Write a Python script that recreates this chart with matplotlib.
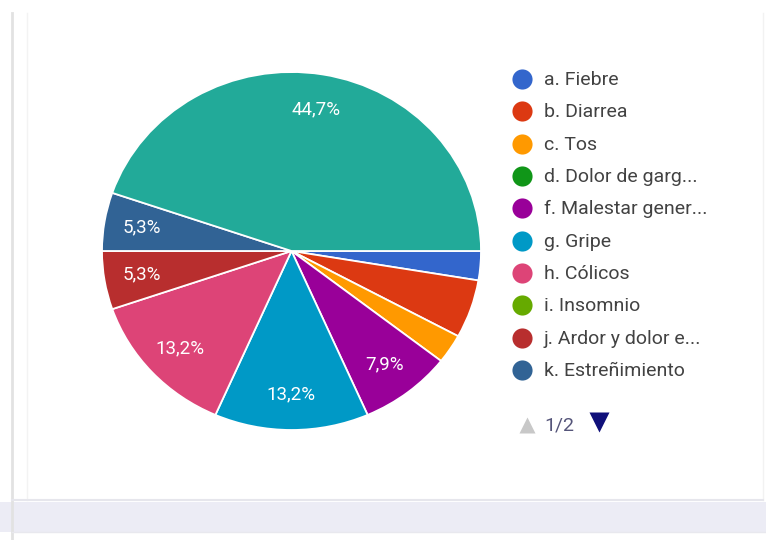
import matplotlib
matplotlib.use('Agg')
import matplotlib.pyplot as plt
from matplotlib.patches import Rectangle
import numpy as np

plt.rcParams['font.family'] = ['Roboto', 'DejaVu Sans']

# Responses per option (38 answers in total)
categories = ["a. Fiebre", "b. Diarrea", "c. Tos", "d. Dolor de garganta",
              "f. Malestar general", "g. Gripe", "h. Cólicos", "i. Insomnio",
              "j. Ardor y dolor estomacal", "k. Estreñimiento", "l. Otro", "m. Ninguno"]
counts = [1, 2, 1, 0, 3, 5, 5, 0, 2, 2, 0, 17]
colors = ["#3366cc", "#dc3912", "#ff9900", "#109618", "#990099", "#0099c6",
          "#dd4477", "#66aa00", "#b82e2e", "#316395", "#994499", "#22aa99"]

# legend shows the first page only, names cut like in the web form
legend_labels = ["a. Fiebre", "b. Diarrea", "c. Tos", "d. Dolor de garg...",
                 "f. Malestar gener...", "g. Gripe", "h. Cólicos", "i. Insomnio",
                 "j. Ardor y dolor e...", "k. Estreñimiento"]
page_text = "1/2"

# slices whose percentage does not fit next to the legend side
no_pct = {"b. Diarrea"}

W, H = 766, 540
fig = plt.figure(figsize=(W / 100, H / 100), dpi=100)
fig.patch.set_facecolor("white")


def px_rect(x0, y0, x1, y1):
    return [x0 / W, 1 - y1 / H, (x1 - x0) / W, (y1 - y0) / H]


# card frame and the gray strip under it
bg = fig.add_axes([0, 0, 1, 1])
bg.set_xlim(0, W)
bg.set_ylim(H, 0)
bg.axis("off")
bg.add_patch(Rectangle((0, 502), W, 30, color="#ececf5", lw=0))
bg.plot([12, 12], [13, H], color="#e2e2e2", lw=2)
bg.plot([27, 27], [13, 500], color="#f3f3f3", lw=1)
bg.plot([763, 763], [13, 500], color="#f2f2f2", lw=1)
bg.plot([12, 763], [500, 500], color="#e6e6ec", lw=1.5)
bg.plot([12, W], [532, 532], color="#e8e8ee", lw=1)

# pie, only slices with answers
shown = [(cat, c, col) for cat, c, col in zip(categories, counts, colors) if c > 0]
vals = [c for _, c, _ in shown]
cols = [col for _, _, col in shown]
total = sum(counts)

ax = fig.add_axes(px_rect(102, 72, 481, 430))
wedges, _ = ax.pie(vals, colors=cols, startangle=0, counterclock=False,
                   wedgeprops=dict(edgecolor="white", linewidth=1.3))

ang = 0.0
for cat, v, _ in shown:
    span = 360.0 * v / total
    mid = np.deg2rad(ang - span / 2)
    ang -= span
    pct = 100.0 * v / total
    if pct < 5 or cat in no_pct:
        continue
    txt = f"{pct:.1f}%".replace(".", ",")
    ax.text(0.8 * np.cos(mid), 0.8 * np.sin(mid), txt, color="white",
            fontsize=13.5, ha="center", va="center")

ax.set_aspect("auto")
ax.set_xlim(-1, 1)
ax.set_ylim(-1, 1)

# legend drawn by hand with round markers
rows_y = np.linspace(79, 370, len(legend_labels))
for lab, col, y in zip(legend_labels, colors, rows_y):
    bg.plot(522, y, "o", ms=14.5, color=col, mec="none")
    bg.text(544, y + 1, lab, fontsize=14, color="#424242", va="center", ha="left")

# pager
bg.plot(527, 425, "^", ms=12, color="#c8c8c8", mec="none")
bg.text(544, 425, page_text, fontsize=14, color="#55557a", va="center", ha="left")
bg.plot(599, 422, "v", ms=14, color="#10107a", mec="none")

fig.savefig("out.png", dpi=100, facecolor="white")
